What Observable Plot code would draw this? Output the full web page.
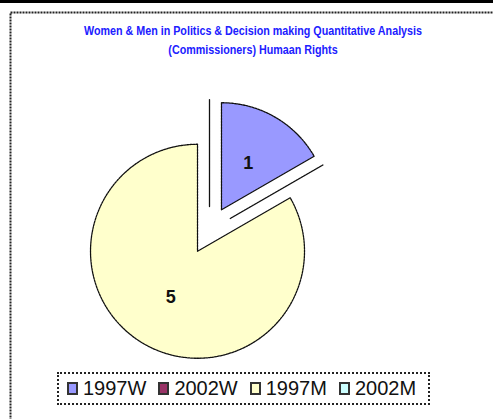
<!DOCTYPE html>
<html><head><meta charset="utf-8">
<script src="https://cdn.jsdelivr.net/npm/d3@7"></script>
<script src="https://cdn.jsdelivr.net/npm/@observablehq/plot@0.6"></script>
<style>
html,body{margin:0;padding:0;background:#fff;width:493px;height:419px;overflow:hidden;}
#wrap{position:relative;width:493px;height:419px;}
#wrap svg{position:absolute;left:0;top:0;overflow:visible;}
#topbar{position:absolute;left:0;top:0;width:493px;height:3px;background:#000;}
#title{position:absolute;left:0;width:506px;top:22px;text-align:center;font-family:"Liberation Sans",Arial,sans-serif;font-weight:bold;font-size:12.5px;color:#2020ff;line-height:19px;transform-origin:253px 0;}
#title span{white-space:nowrap;}
#legend{position:absolute;left:57px;top:372px;width:361px;height:29px;border:2px dotted #222;background:#fff;display:flex;align-items:center;padding-left:8px;box-sizing:content-box;}
#legend .item{display:flex;align-items:center;margin-right:12px;font-family:"Liberation Sans",Arial,sans-serif;font-size:20px;color:#111;}
#legend .sw{display:inline-block;width:7px;height:9px;border:2px solid #333;margin-right:5px;}
</style>
</head><body>
<div id="wrap">
<div id="topbar"></div>
</div>
<script>
const title = ["Women & Men in Politics & Decision making Quantitative Analysis", "(Commissioners) Humaan Rights"];
const categories = ["1997W", "2002W", "1997M", "2002M"];
const values = [1, 0, 5, 0];
const colors = ["#9999ff", "#993366", "#ffffcc", "#ccffff"];

const explode = 0.224; // fraction of radius
const labelR = 0.5;

const arcs = d3.pie().sort(null)(values);
const pts = [];
const labels = [];
arcs.forEach((a, i) => {
  const mid = (a.startAngle + a.endAngle) / 2;
  const cx = explode * Math.sin(mid), cy = explode * Math.cos(mid);
  pts.push({cat: categories[i], x: cx, y: cy});
  const n = Math.max(1, Math.ceil((a.endAngle - a.startAngle) / 0.02));
  for (let k = 0; k <= n; k++) {
    const t = a.startAngle + (a.endAngle - a.startAngle) * k / n;
    pts.push({cat: categories[i], x: cx + Math.sin(t), y: cy + Math.cos(t)});
  }
  if (values[i] > 0) labels.push({cat: categories[i], v: values[i], x: cx + labelR * Math.sin(mid), y: cy + labelR * Math.cos(mid)});
});

const chart = Plot.plot({
  width: 493, height: 419,
  margin: 0,
  x: {domain: [-1, 1], range: [102, 316], axis: null},
  y: {domain: [-1, 1], range: [337, 123], axis: null},
  color: {domain: categories, range: colors},
  marks: [
    Plot.frame({stroke: "#222", strokeWidth: 2, strokeDasharray: "2,1", insetLeft: 10, insetTop: 12, insetRight: -20, insetBottom: -20}),
    Plot.line(pts, {x: "x", y: "y", z: "cat", fill: "cat", stroke: "#111", strokeWidth: 1.3, strokeDasharray: "2,1", curve: "linear-closed"}),
    Plot.text(labels, {x: "x", y: "y", text: d => String(d.v), fontSize: 18, fontWeight: "bold", fill: "#111", fontFamily: "Liberation Sans, Arial, sans-serif"})
  ]
});
const wrap = document.getElementById("wrap");
wrap.appendChild(chart);

const t = document.createElement("div");
t.id = "title";
title.forEach((s, i) => {
  if (i) t.appendChild(document.createElement("br"));
  const sp = document.createElement("span");
  sp.textContent = s;
  t.appendChild(sp);
});
wrap.appendChild(t);
const w0 = t.querySelector("span").getBoundingClientRect().width;
t.style.transform = `scaleX(${338 / w0})`;

const lg = document.createElement("div");
lg.id = "legend";
categories.forEach((c, i) => {
  const it = document.createElement("div");
  it.className = "item";
  const sw = document.createElement("span");
  sw.className = "sw";
  sw.style.background = colors[i];
  it.appendChild(sw);
  it.appendChild(document.createTextNode(c));
  lg.appendChild(it);
});
wrap.appendChild(lg);
</script>
</body></html>
